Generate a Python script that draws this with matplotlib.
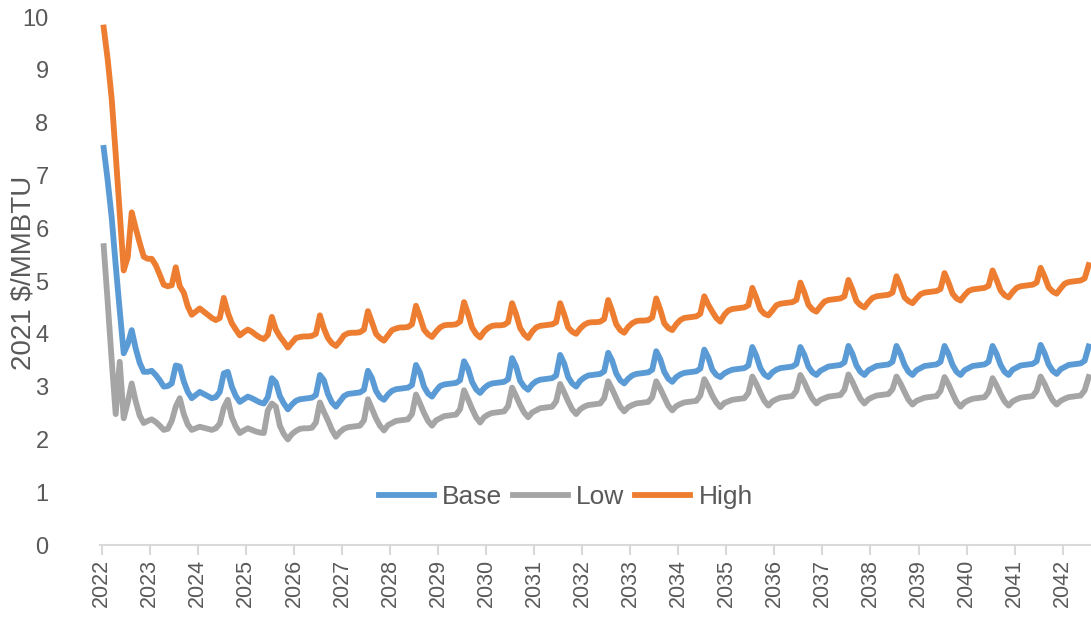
import matplotlib
matplotlib.use("Agg")
import matplotlib.pyplot as plt
import numpy as np

# monthly gas price forecasts, Jan 2022 - Jul 2042 (one row per year)
base = [
    7.52, 6.90, 6.20, 5.30, 4.45, 3.63, 3.80, 4.07, 3.72, 3.45, 3.28, 3.28,
    3.30, 3.22, 3.12, 3.00, 3.01, 3.06, 3.40, 3.38, 3.10, 2.90, 2.78, 2.84,
    2.90, 2.86, 2.82, 2.78, 2.80, 2.90, 3.25, 3.28, 3.00, 2.82, 2.71, 2.76,
    2.81, 2.78, 2.74, 2.70, 2.68, 2.80, 3.16, 3.08, 2.82, 2.68, 2.57, 2.66,
    2.73, 2.76, 2.77, 2.78, 2.79, 2.84, 3.22, 3.12, 2.86, 2.70, 2.62, 2.72,
    2.82, 2.86, 2.87, 2.88, 2.89, 2.94, 3.30, 3.16, 2.92, 2.80, 2.75, 2.85,
    2.92, 2.95, 2.96, 2.97, 2.98, 3.03, 3.41, 3.26, 3.00, 2.87, 2.81, 2.92,
    3.01, 3.04, 3.05, 3.06, 3.07, 3.12, 3.48, 3.34, 3.09, 2.95, 2.88, 2.97,
    3.03, 3.06, 3.07, 3.08, 3.09, 3.14, 3.54, 3.38, 3.11, 3.00, 2.94, 3.04,
    3.10, 3.13, 3.14, 3.15, 3.16, 3.21, 3.60, 3.44, 3.18, 3.06, 3.00, 3.11,
    3.17, 3.21, 3.22, 3.23, 3.24, 3.29, 3.64, 3.49, 3.25, 3.12, 3.06, 3.15,
    3.21, 3.24, 3.25, 3.26, 3.27, 3.32, 3.67, 3.52, 3.28, 3.15, 3.09, 3.18,
    3.23, 3.26, 3.27, 3.28, 3.29, 3.34, 3.70, 3.55, 3.32, 3.22, 3.18, 3.25,
    3.29, 3.32, 3.33, 3.34, 3.35, 3.40, 3.75, 3.58, 3.35, 3.23, 3.18, 3.27,
    3.32, 3.35, 3.36, 3.37, 3.38, 3.43, 3.75, 3.60, 3.38, 3.27, 3.22, 3.30,
    3.34, 3.38, 3.39, 3.40, 3.41, 3.46, 3.77, 3.62, 3.40, 3.28, 3.22, 3.31,
    3.35, 3.39, 3.40, 3.41, 3.42, 3.47, 3.77, 3.62, 3.41, 3.28, 3.22, 3.31,
    3.35, 3.39, 3.40, 3.41, 3.42, 3.47, 3.77, 3.62, 3.41, 3.28, 3.22, 3.31,
    3.35, 3.39, 3.40, 3.41, 3.42, 3.47, 3.77, 3.62, 3.41, 3.28, 3.22, 3.32,
    3.36, 3.40, 3.41, 3.42, 3.43, 3.48, 3.79, 3.63, 3.42, 3.30, 3.24, 3.33,
    3.37, 3.41, 3.42, 3.43, 3.44, 3.49, 3.76,
]

low = [
    5.66, 4.60, 3.50, 2.48, 3.47, 2.40, 2.70, 3.06, 2.72, 2.45, 2.31, 2.35,
    2.38, 2.33, 2.26, 2.18, 2.20, 2.35, 2.62, 2.78, 2.48, 2.28, 2.18, 2.21,
    2.24, 2.22, 2.20, 2.18, 2.21, 2.30, 2.60, 2.75, 2.42, 2.24, 2.12, 2.17,
    2.21, 2.18, 2.15, 2.13, 2.12, 2.55, 2.68, 2.62, 2.26, 2.10, 2.00, 2.10,
    2.16, 2.20, 2.21, 2.21, 2.22, 2.32, 2.70, 2.52, 2.36, 2.18, 2.05, 2.14,
    2.20, 2.23, 2.24, 2.25, 2.26, 2.36, 2.76, 2.58, 2.40, 2.26, 2.17, 2.27,
    2.31, 2.35, 2.36, 2.37, 2.38, 2.48, 2.85, 2.68, 2.50, 2.35, 2.26, 2.36,
    2.40, 2.44, 2.45, 2.46, 2.47, 2.57, 2.93, 2.76, 2.58, 2.42, 2.32, 2.42,
    2.47, 2.50, 2.51, 2.52, 2.53, 2.63, 2.98, 2.82, 2.65, 2.51, 2.42, 2.51,
    2.55, 2.59, 2.60, 2.61, 2.62, 2.72, 3.05, 2.89, 2.72, 2.57, 2.48, 2.57,
    2.62, 2.65, 2.66, 2.67, 2.68, 2.78, 3.10, 2.95, 2.78, 2.62, 2.53, 2.61,
    2.65, 2.68, 2.69, 2.70, 2.71, 2.80, 3.10, 2.96, 2.80, 2.64, 2.55, 2.63,
    2.67, 2.70, 2.71, 2.72, 2.73, 2.83, 3.14, 3.00, 2.83, 2.70, 2.61, 2.69,
    2.72, 2.75, 2.76, 2.77, 2.78, 2.88, 3.19, 3.05, 2.88, 2.73, 2.64, 2.72,
    2.76, 2.79, 2.80, 2.81, 2.82, 2.92, 3.22, 3.08, 2.91, 2.77, 2.68, 2.75,
    2.78, 2.81, 2.82, 2.83, 2.84, 2.94, 3.23, 3.09, 2.92, 2.77, 2.68, 2.76,
    2.80, 2.83, 2.84, 2.85, 2.86, 2.95, 3.19, 3.06, 2.90, 2.75, 2.66, 2.73,
    2.76, 2.79, 2.80, 2.81, 2.82, 2.92, 3.18, 3.04, 2.87, 2.71, 2.62, 2.70,
    2.74, 2.77, 2.78, 2.79, 2.80, 2.90, 3.16, 3.02, 2.86, 2.72, 2.64, 2.72,
    2.76, 2.79, 2.80, 2.81, 2.82, 2.92, 3.19, 3.05, 2.88, 2.74, 2.66, 2.73,
    2.77, 2.80, 2.81, 2.82, 2.83, 2.93, 3.18,
]

high = [
    9.80, 9.20, 8.45, 7.40, 6.30, 5.20, 5.45, 6.30, 6.00, 5.72, 5.46, 5.42,
    5.42, 5.30, 5.12, 4.93, 4.90, 4.92, 5.26, 4.90, 4.78, 4.52, 4.36, 4.42,
    4.48, 4.42, 4.36, 4.30, 4.26, 4.30, 4.68, 4.40, 4.20, 4.08, 3.97, 4.03,
    4.08, 4.04, 3.98, 3.93, 3.90, 3.98, 4.32, 4.08, 3.95, 3.85, 3.74, 3.83,
    3.92, 3.94, 3.95, 3.95, 3.96, 4.00, 4.35, 4.10, 3.92, 3.82, 3.77, 3.86,
    3.97, 4.01, 4.02, 4.02, 4.03, 4.08, 4.43, 4.22, 4.00, 3.92, 3.87, 3.97,
    4.07, 4.10, 4.12, 4.12, 4.13, 4.18, 4.53, 4.32, 4.08, 3.99, 3.94, 4.04,
    4.12, 4.16, 4.17, 4.17, 4.18, 4.23, 4.60, 4.38, 4.12, 4.00, 3.93, 4.04,
    4.11, 4.15, 4.16, 4.16, 4.17, 4.22, 4.58, 4.37, 4.11, 3.99, 3.92, 4.04,
    4.12, 4.15, 4.16, 4.17, 4.18, 4.22, 4.58, 4.37, 4.12, 4.04, 4.00, 4.10,
    4.17, 4.21, 4.22, 4.22, 4.23, 4.28, 4.64, 4.43, 4.18, 4.07, 4.02, 4.13,
    4.20, 4.24, 4.25, 4.25, 4.26, 4.31, 4.67, 4.46, 4.20, 4.11, 4.07, 4.18,
    4.26, 4.30, 4.31, 4.32, 4.33, 4.38, 4.71, 4.55, 4.42, 4.30, 4.23, 4.36,
    4.44, 4.47, 4.48, 4.49, 4.50, 4.54, 4.87, 4.68, 4.46, 4.38, 4.35, 4.44,
    4.54, 4.57, 4.58, 4.59, 4.60, 4.64, 4.97, 4.78, 4.55, 4.46, 4.42, 4.52,
    4.61, 4.64, 4.65, 4.66, 4.67, 4.71, 5.02, 4.84, 4.62, 4.54, 4.50, 4.60,
    4.68, 4.71, 4.72, 4.73, 4.74, 4.78, 5.09, 4.91, 4.69, 4.62, 4.58, 4.67,
    4.75, 4.78, 4.79, 4.80, 4.81, 4.85, 5.15, 4.97, 4.76, 4.67, 4.63, 4.73,
    4.81, 4.84, 4.85, 4.86, 4.87, 4.91, 5.20, 5.02, 4.82, 4.73, 4.69, 4.79,
    4.87, 4.90, 4.91, 4.92, 4.93, 4.97, 5.25, 5.08, 4.88, 4.80, 4.76, 4.86,
    4.95, 4.98, 4.99, 5.00, 5.01, 5.05, 5.30,
]

year_ticks = list(range(2022, 2043))

# mid-month positions in decimal years
t = 2022 + (np.arange(len(base)) + 0.5) / 12

fig = plt.figure(figsize=(10.91, 6.20), dpi=100)
ax = fig.add_axes([100 / 1091, 75 / 620, 991 / 1091, 528 / 620])

lw = 4.2
ax.plot(t, base, color='#5B9BD5', lw=lw, label='Base', solid_joinstyle='round')
ax.plot(t, low, color='#A5A5A5', lw=lw, label='Low', solid_joinstyle='round')
ax.plot(t, high, color='#ED7D31', lw=lw, label='High', solid_joinstyle='round')

ax.set_xlim(2022 - 0.035, 2042.59)
ax.set_ylim(0, 10)
ax.set_yticks(range(0, 11))
ax.set_xticks(year_ticks)
ax.set_xticklabels([str(y) for y in year_ticks], rotation=90)

for s in ['top', 'right', 'left']:
    ax.spines[s].set_visible(False)
ax.spines['bottom'].set_color('#D9D9D9')
ax.spines['bottom'].set_linewidth(1.5)

ax.tick_params(axis='x', colors='#D9D9D9', length=7, width=1.5, direction='out',
               labelcolor='#595959', labelsize=15.5, pad=3)
ax.tick_params(axis='y', length=0, labelcolor='#595959', labelsize=17, pad=37)

for lab in ax.get_xticklabels() + ax.get_yticklabels():
    lab.set_fontfamily('Liberation Sans')

ax.set_ylabel('2021 $/MMBTU', fontsize=20, color='#595959',
              fontfamily='Liberation Sans')
ax.yaxis.set_label_coords(-63 / 991, 0.515)

ax.legend(loc='center', bbox_to_anchor=(0.47, 0.091), ncol=3, frameon=False,
          prop={'family': 'Liberation Sans', 'size': 19}, handlelength=2.1,
          handletextpad=0.3, columnspacing=0.4, labelcolor='#595959')

plt.savefig('out.png', dpi=100)
